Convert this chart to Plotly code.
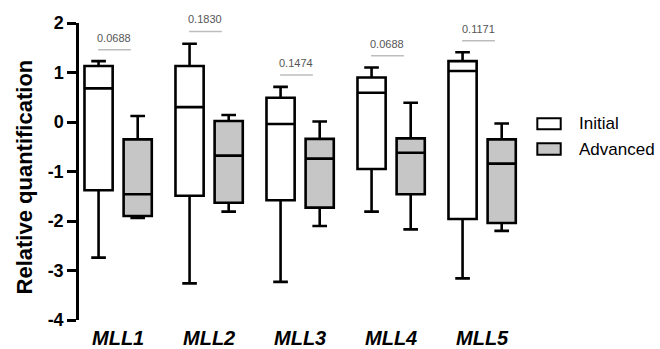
import plotly.graph_objects as go

genes = ["MLL1", "MLL2", "MLL3", "MLL4", "MLL5"]

# Initial group (box statistics)
init_low = [-2.74, -3.26, -3.23, -1.81, -3.16]
init_q1 = [-1.38, -1.49, -1.58, -0.95, -1.96]
init_med = [0.68, 0.30, -0.04, 0.59, 1.03]
init_q3 = [1.13, 1.13, 0.49, 0.90, 1.23]
init_high = [1.23, 1.58, 0.71, 1.10, 1.41]

# Advanced group (box statistics)
adv_low = [-1.94, -1.81, -2.10, -2.17, -2.20]
adv_q1 = [-1.90, -1.63, -1.73, -1.46, -2.04]
adv_med = [-1.46, -0.68, -0.74, -0.62, -0.84]
adv_q3 = [-0.35, 0.02, -0.34, -0.33, -0.35]
adv_high = [0.12, 0.14, 0.01, 0.39, -0.03]

# p-values and the height of their bar
p_values = ["0.0688", "0.1830", "0.1474", "0.0688", "0.1171"]
p_bar_y = [1.46, 1.83, 0.95, 1.34, 1.64]

# y tick labels
y_tick_vals = [2, 1, 0, -1, -2, -3, -4]
y_tick_text = ["2", "1", "0", "-1", "-2", "-3", "-4"]

series_names = ["Initial", "Advanced"]
series_fill = ["#ffffff", "#c6c6c6"]

FONT = "Liberation Sans, Arial, sans-serif"

fig = go.Figure()
stats = [
    (init_low, init_q1, init_med, init_q3, init_high),
    (adv_low, adv_q1, adv_med, adv_q3, adv_high),
]
for name, fill, (lo, q1, med, q3, hi) in zip(series_names, series_fill, stats):
    fig.add_trace(go.Box(
        x=genes, lowerfence=lo, q1=q1, median=med, q3=q3, upperfence=hi,
        name=name, fillcolor=fill,
        line=dict(color="black", width=2.6),
        whiskerwidth=0.52, boxpoints=False, showlegend=False,
    ))

# p-value bars and labels
for i, (p, yb) in enumerate(zip(p_values, p_bar_y)):
    fig.add_shape(type="line", xref="x", yref="y", x0=i - 0.22, x1=i + 0.14,
                  y0=yb, y1=yb, line=dict(color="#bdbdbd", width=1.5))
    fig.add_annotation(x=i - 0.04, y=yb, xref="x", yref="y", text=p,
                       showarrow=False, yshift=12,
                       font=dict(family=FONT, size=11, color="#555555"))

# custom legend
leg_y = [[0.642, 0.679], [0.556, 0.595]]
for name, fill, (y0, y1) in zip(series_names, series_fill, leg_y):
    fig.add_shape(type="rect", xref="paper", yref="paper", x0=1.0073, x1=1.0587,
                  y0=y0, y1=y1, fillcolor=fill, line=dict(color="black", width=2))
    fig.add_annotation(x=1.094, y=(y0 + y1) / 2, xref="paper", yref="paper",
                       text=name, showarrow=False, xanchor="left", yanchor="middle",
                       font=dict(family=FONT, size=17, color="black"))

# y-axis title
fig.add_annotation(x=0, y=0.48, xref="paper", yref="paper", xshift=-55,
                   text="Relative quantification", textangle=-90, showarrow=False,
                   xanchor="center", yanchor="middle",
                   font=dict(family=FONT, size=22, color="black", weight="bold"))

fig.update_layout(
    width=660, height=349,
    margin=dict(l=79, r=126, t=23, b=29),
    paper_bgcolor="white", plot_bgcolor="white",
    boxmode="group", boxgap=0.14, boxgroupgap=0.28,
    showlegend=False,
    font=dict(family=FONT, color="black"),
)
fig.update_xaxes(
    range=[-0.43, 4.57], showline=False, showgrid=False, zeroline=False,
    ticks="", ticklabelstandoff=4, automargin=False,
    tickfont=dict(family=FONT, size=20, color="black", weight="bold", style="italic"),
)
fig.update_yaxes(
    range=[-4, 2], tickmode="array", tickvals=y_tick_vals, ticktext=y_tick_text,
    showgrid=False, zeroline=False, automargin=False,
    showline=True, linecolor="black", linewidth=2.5,
    ticks="outside", ticklen=9, tickwidth=2.5, tickcolor="black",
    tickfont=dict(family=FONT, size=18, color="black", weight="bold"),
)

fig.write_html("out.html")
